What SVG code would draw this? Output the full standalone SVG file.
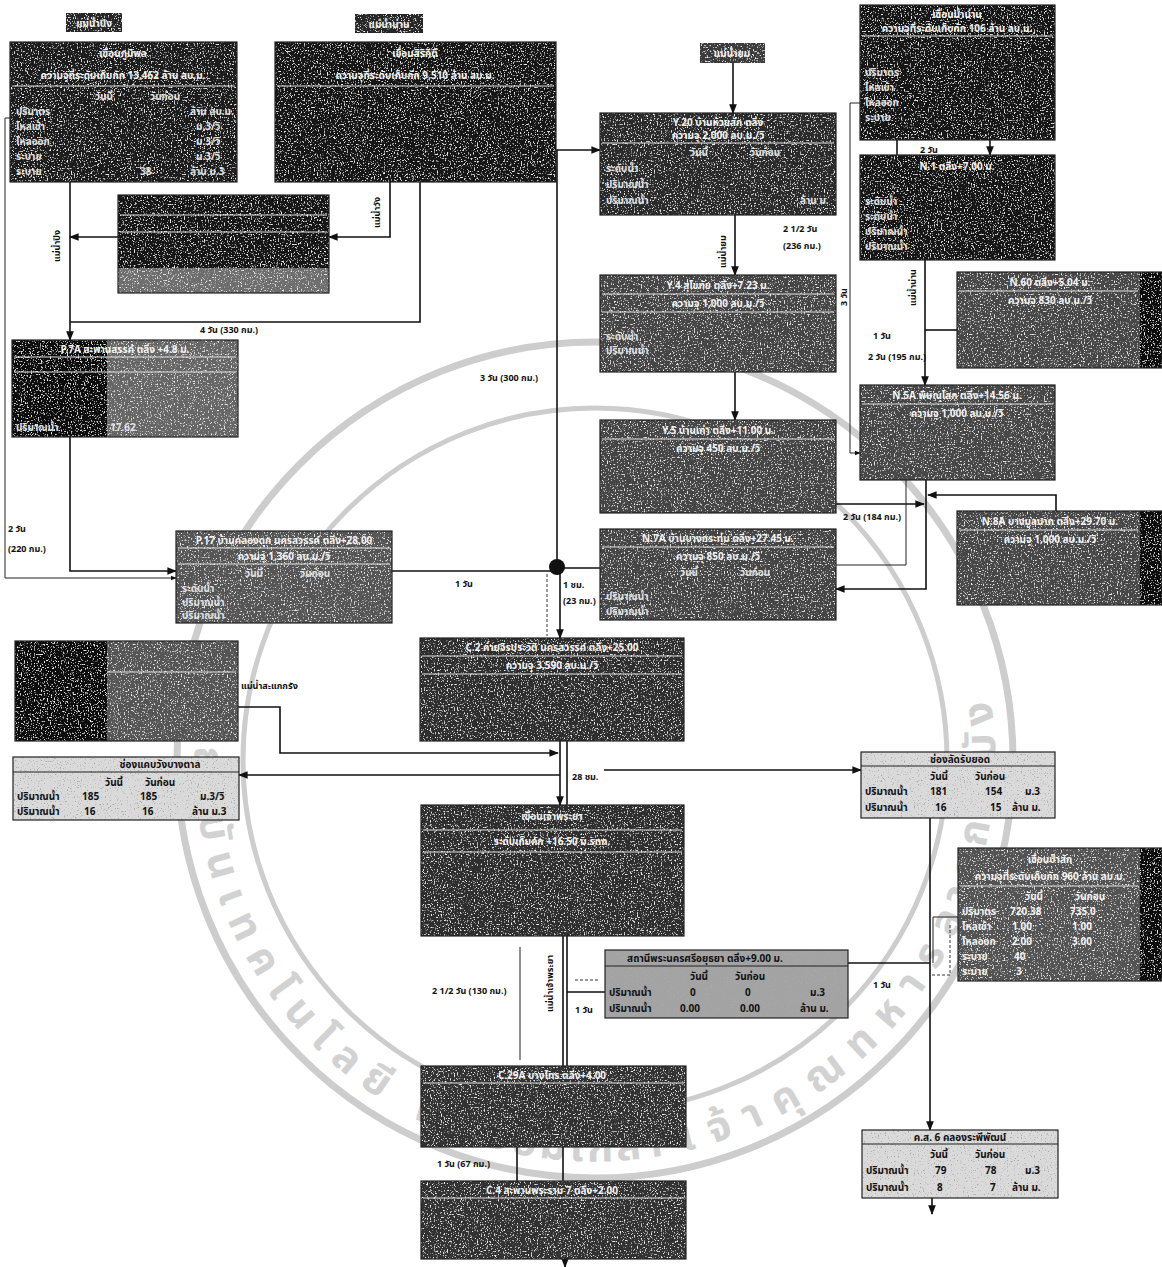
<svg xmlns="http://www.w3.org/2000/svg" width="1162" height="1267" viewBox="0 0 1162 1267">
<defs>
  <style>
    .t { font-family: "Noto Sans Thai", "Noto Sans", "DejaVu Sans", sans-serif; }
    .hd { font-size: 10px; fill: #f4f4f4; font-weight: bold; }
    .rw { font-size: 10px; fill: #e2e2e2; font-weight: bold; }
    .dk { font-size: 10px; fill: #111; font-weight: bold; }
    .lb { font-size: 9px; fill: #111; font-weight: bold; }
    .tag { font-size: 10px; fill: #f0f0f0; font-weight: bold; }
    .ln { fill: none; stroke: #111; stroke-width: 1.6; }
    .thin { fill: none; stroke: #222; stroke-width: 1; }
    .dash { fill: none; stroke: #333; stroke-width: 1; stroke-dasharray: 3 2; }
    .frame { fill: none; stroke: #222; stroke-width: 1.2; }
    .rule { stroke: #e0e0e0; stroke-width: 1; }
    .wm { fill: none; stroke: #cdcdcd; }
    .wmt { font-family: "Noto Sans Thai", "Noto Sans", "DejaVu Sans", sans-serif; font-size: 42px; font-weight: bold; fill: #d2d2d2; }
  </style>
  <!-- speckled scan texture: pale grains over dark fills -->
  <filter id="grainW" x="0" y="0" width="100%" height="100%">
    <feTurbulence type="fractalNoise" baseFrequency="0.7" numOctaves="2" seed="4" result="n"/>
    <feColorMatrix in="n" type="matrix" values="0 0 0 0 0.85  0 0 0 0 0.85  0 0 0 0 0.85  6 0 0 0 -3.5" result="w"/>
    <feComposite in="w" in2="SourceAlpha" operator="in" result="wc"/>
    <feMerge><feMergeNode in="SourceGraphic"/><feMergeNode in="wc"/></feMerge>
  </filter>
  <!-- dark grains over light fills -->
  <filter id="grainK" x="0" y="0" width="100%" height="100%">
    <feTurbulence type="fractalNoise" baseFrequency="0.7" numOctaves="2" seed="9" result="n"/>
    <feColorMatrix in="n" type="matrix" values="0 0 0 0 0.4  0 0 0 0 0.4  0 0 0 0 0.4  6 0 0 0 -3.6" result="k"/>
    <feComposite in="k" in2="SourceAlpha" operator="in" result="kc"/>
    <feMerge><feMergeNode in="SourceGraphic"/><feMergeNode in="kc"/></feMerge>
  </filter>
  <marker id="ah" viewBox="0 0 10 10" refX="9" refY="5" markerWidth="6" markerHeight="6" orient="auto-start-reverse">
    <path d="M0,1 L10,5 L0,9 Z" fill="#111"/>
  </marker>
  <!-- seal lettering runs from upper-left, down round the bottom, up the right -->
  <path id="ringPath" d="M198.9,704.3 A400,400 0 1,0 991.1,815.7 A400,400 0 1,0 198.9,704.3"/>
</defs>

<rect width="1162" height="1267" fill="#ffffff"/>

<!-- background seal -->
<g id="watermark">
  <circle class="wm" cx="595" cy="760" r="418" stroke-width="7"/>
  <circle class="wm" cx="595" cy="760" r="352" stroke-width="5"/>
  <text class="wmt"><textPath href="#ringPath" startOffset="4" textLength="455" lengthAdjust="spacing">สถาบันเทคโนโลยี</textPath></text>
  <text class="wmt"><textPath href="#ringPath" startOffset="495" textLength="260" lengthAdjust="spacing">พระจอมเกล้า</textPath></text>
  <text class="wmt"><textPath href="#ringPath" startOffset="775" textLength="340" lengthAdjust="spacing">เจ้าคุณทหาร</textPath></text>
  <text class="wmt"><textPath href="#ringPath" startOffset="1130" textLength="245" lengthAdjust="spacing">ลาดกระบัง</textPath></text>
</g>

<!-- connectors -->
<g id="connectors">
  <!-- Ping branch -->
  <path class="thin" d="M10,118 H5 V578 H176" marker-end="url(#ah)"/>
  <path class="ln" d="M70,182 V340" marker-end="url(#ah)"/>
  <path class="ln" d="M118,237 H70" marker-end="url(#ah)"/>
  <path class="ln" d="M70,437 V571 H176" marker-end="url(#ah)"/>
  <path class="ln" d="M390,182 V237 H329" marker-end="url(#ah)"/>
  <path class="ln" d="M420,182 V322 H70"/>
  <!-- Nan branch down to junction -->
  <path class="ln" d="M556,150 H600" marker-end="url(#ah)"/>
  <path class="ln" d="M557,150 V560"/>
  <path class="ln" d="M392,571 H552"/>
  <path class="ln" d="M563,568 H600"/>
  <path class="ln" d="M560,572 V638" marker-end="url(#ah)"/>
  <path class="dash" d="M547,574 V636"/>
  <!-- Yom -->
  <path class="ln" d="M733,63 V113" marker-end="url(#ah)"/>
  <path class="ln" d="M735,215 V275" marker-end="url(#ah)"/>
  <path class="ln" d="M735,372 V420" marker-end="url(#ah)"/>
  <path class="ln" d="M836,504 H924" marker-end="url(#ah)"/>
  <!-- upper right -->
  <path class="thin" d="M860,103 H850 V453 H860" marker-end="url(#ah)"/>
  <path class="ln" d="M897,140 V155"/>
  <path class="ln" d="M990,140 V155" marker-end="url(#ah)"/>
  <path class="ln" d="M925,260 V385" marker-end="url(#ah)"/>
  <path class="ln" d="M925,330 H957"/>
  <path class="ln" d="M926,480 V589 H836" marker-end="url(#ah)"/>
  <path class="thin" d="M906,480 V565 H836"/>
  <path class="ln" d="M1056,511 V495 H928" marker-end="url(#ah)"/>
  <!-- main stem -->
  <path class="ln" d="M560,741 V805" marker-end="url(#ah)"/>
  <path class="ln" d="M567,741 V805"/>
  <path class="ln" d="M238,707 H280 V753 H558" marker-end="url(#ah)"/>
  <path class="ln" d="M560,775 H239" marker-end="url(#ah)"/>
  <path class="ln" d="M604,770 H861" marker-end="url(#ah)"/>
  <path class="ln" d="M930,818 V1130" marker-end="url(#ah)"/>
  <path class="ln" d="M930,963 H848"/>
  <path class="thin" d="M933,963 V917 H958"/>
  <path class="dash" d="M950,925 V975 H930"/>
  <path class="thin" d="M520,947 V1060"/>
  <path class="ln" d="M563,936 V1066"/>
  <path class="ln" d="M567,936 V1066"/>
  <path class="ln" d="M567,992 H605"/>
  <path class="dash" d="M575,980 H600"/>
  <path class="ln" d="M517,1147 V1181"/>
  <path class="ln" d="M563,1147 V1181"/>
  <path class="ln" d="M565,1259 V1267" marker-end="url(#ah)"/>
  <path class="ln" d="M932,1198 V1214" marker-end="url(#ah)"/>
  <circle cx="557" cy="567" r="8" fill="#111"/>
</g>

<!-- connector captions -->
<g id="captions" class="t">
  <text class="lb" transform="translate(60,262) rotate(-90)">แม่น้ำปิง</text>
  <text class="lb" transform="translate(380,228) rotate(-90)">แม่น้ำวัง</text>
  <text class="lb" transform="translate(726,268) rotate(-90)">แม่น้ำยม</text>
  <text class="lb" transform="translate(916,306) rotate(-90)">แม่น้ำน่าน</text>
  <text class="lb" transform="translate(847,306) rotate(-90)">3 วัน</text>
  <text class="lb" transform="translate(553,1012) rotate(-90)">แม่น้ำเจ้าพระยา</text>
  <text class="lb" x="200" y="333">4 วัน (330 กม.)</text>
  <text class="lb" x="480" y="381">3 วัน (300 กม.)</text>
  <text class="lb" x="783" y="232">2 1/2 วัน</text>
  <text class="lb" x="783" y="249">(236 กม.)</text>
  <text class="lb" x="920" y="153">2 วัน</text>
  <text class="lb" x="873" y="339">1 วัน</text>
  <text class="lb" x="868" y="360">2 วัน (195 กม.)</text>
  <text class="lb" x="843" y="520">2 วัน (184 กม.)</text>
  <text class="lb" x="8" y="532">2 วัน</text>
  <text class="lb" x="8" y="552">(220 กม.)</text>
  <text class="lb" x="455" y="587">1 วัน</text>
  <text class="lb" x="563" y="588">1 ชม.</text>
  <text class="lb" x="563" y="604">(23 กม.)</text>
  <text class="lb" x="241" y="689">แม่น้ำสะแกกรัง</text>
  <text class="lb" x="572" y="780">28 ชม.</text>
  <text class="lb" x="432" y="994">2 1/2 วัน (130 กม.)</text>
  <text class="lb" x="575" y="1013">1 วัน</text>
  <text class="lb" x="873" y="988">1 วัน</text>
  <text class="lb" x="437" y="1167">1 วัน (67 กม.)</text>
</g>

<!-- river tags -->
<g id="tag-ping" class="t"><rect x="66" y="13" width="56" height="19" fill="#262626" filter="url(#grainW)"/><text class="tag" x="94" y="27" text-anchor="middle">แม่น้ำปิง</text></g>
<g id="tag-nan" class="t"><rect x="355" y="14" width="68" height="19" fill="#262626" filter="url(#grainW)"/><text class="tag" x="389" y="28" text-anchor="middle">แม่น้ำน่าน</text></g>
<g id="tag-yom" class="t"><rect x="700" y="43" width="65" height="20" fill="#3a3a3a" filter="url(#grainW)"/><text class="tag" x="732" y="57" text-anchor="middle">แม่น้ำยม</text></g>

<!-- stations -->
<g id="bhumibol" class="t">
  <rect x="10" y="42" width="227" height="140" fill="#1a1a1a" filter="url(#grainW)"/>
  <rect class="frame" x="10" y="42" width="227" height="140"/>
  <line class="rule" x1="12" y1="86" x2="235" y2="86"/>
  <text class="hd" x="123" y="57" text-anchor="middle">เขื่อนภูมิพล</text>
  <text class="hd" x="123" y="79" text-anchor="middle">ความจุที่ระดับเก็บกัก 13,462 ล้าน ลบ.ม.</text>
  <text class="rw" x="95" y="100">วันนี้</text><text class="rw" x="150" y="100">วันก่อน</text>
  <text class="rw" x="16" y="115">ปริมาตร</text><text class="rw" x="190" y="115">ล้าน ลบ.ม.</text>
  <text class="rw" x="16" y="130">ไหลเข้า</text><text class="rw" x="196" y="130">ม.3/วิ</text>
  <text class="rw" x="16" y="145">ไหลออก</text><text class="rw" x="196" y="145">ม.3/วิ</text>
  <text class="rw" x="16" y="160">ระบาย</text><text class="rw" x="196" y="160">ม.3/วิ</text>
  <text class="rw" x="16" y="175">ระบาย</text><text class="rw" x="140" y="175">38</text><text class="rw" x="190" y="175">ล้าน ม.3</text>
</g>

<g id="sirikit" class="t">
  <rect x="275" y="42" width="281" height="140" fill="#181818" filter="url(#grainW)"/>
  <rect class="frame" x="275" y="42" width="281" height="140"/>
  <line class="rule" x1="277" y1="86" x2="554" y2="86"/>
  <text class="hd" x="415" y="57" text-anchor="middle">เขื่อนสิริกิติ์</text>
  <text class="hd" x="415" y="79" text-anchor="middle">ความจุที่ระดับเก็บกัก 9,510 ล้าน ลบ.ม.</text>
</g>

<g id="kiewlom" class="t">
  <rect x="118" y="195" width="211" height="98" fill="#151515" filter="url(#grainW)"/>
  <rect x="118" y="268" width="211" height="25" fill="#6e6e6e" filter="url(#grainW)"/>
  <rect class="frame" x="118" y="195" width="211" height="98"/>
  <line class="rule" x1="120" y1="215" x2="327" y2="215"/>
  <line class="rule" x1="120" y1="232" x2="327" y2="232"/>
</g>

<g id="p7a" class="t">
  <rect x="12" y="340" width="226" height="97" fill="#666" filter="url(#grainW)"/>
  <rect x="12" y="340" width="95" height="97" fill="#111" filter="url(#grainW)"/>
  <rect class="frame" x="12" y="340" width="226" height="97"/>
  <line class="rule" x1="14" y1="357" x2="236" y2="357"/>
  <line class="rule" x1="14" y1="372" x2="236" y2="372"/>
  <text class="hd" x="125" y="353" text-anchor="middle">P.7A สะพานสรรค์ ตลิ่ง +4.8 ม.</text>
  <text class="rw" x="16" y="431">ปริมาณน้ำ</text><text class="rw" x="110" y="431">17.62</text>
</g>

<g id="y-upper" class="t">
  <rect x="600" y="113" width="236" height="102" fill="#2a2a2a" filter="url(#grainW)"/>
  <rect class="frame" x="600" y="113" width="236" height="102"/>
  <line class="rule" x1="602" y1="143" x2="834" y2="143"/>
  <text class="hd" x="718" y="126" text-anchor="middle">Y.20 บ้านห้วยสัก ตลิ่ง</text>
  <text class="hd" x="718" y="139" text-anchor="middle">ความจุ 2,000 ลบ.ม./วิ</text>
  <text class="rw" x="690" y="156">วันนี้</text><text class="rw" x="750" y="156">วันก่อน</text>
  <text class="rw" x="606" y="172">ระดับน้ำ</text>
  <text class="rw" x="606" y="188">ปริมาณน้ำ</text>
  <text class="rw" x="606" y="204">ปริมาณน้ำ</text><text class="rw" x="800" y="204">ล้าน ม.</text>
</g>

<g id="n-dam" class="t">
  <rect x="860" y="5" width="195" height="135" fill="#181818" filter="url(#grainW)"/>
  <rect class="frame" x="860" y="5" width="195" height="135"/>
  <line class="rule" x1="862" y1="36" x2="1053" y2="36"/>
  <text class="hd" x="957" y="18" text-anchor="middle">เขื่อนน้ำน่าน</text>
  <text class="hd" x="957" y="32" text-anchor="middle">ความจุที่ระดับเก็บกัก 106 ล้าน ลบ.ม.</text>
  <text class="rw" x="865" y="76">ปริมาตร</text>
  <text class="rw" x="865" y="91">ไหลเข้า</text>
  <text class="rw" x="865" y="106">ไหลออก</text>
  <text class="rw" x="865" y="121">ระบาย</text>
</g>

<g id="n-1" class="t">
  <rect x="860" y="155" width="195" height="105" fill="#181818" filter="url(#grainW)"/>
  <rect class="frame" x="860" y="155" width="195" height="105"/>
  <text class="hd" x="957" y="170" text-anchor="middle">N.1 ตลิ่ง+7.00 ม.</text>
  <text class="rw" x="865" y="205">ระดับน้ำ</text>
  <text class="rw" x="865" y="220">ระดับน้ำ</text>
  <text class="rw" x="865" y="235">ปริมาณน้ำ</text>
  <text class="rw" x="865" y="250">ปริมาณน้ำ</text>
</g>

<g id="y-4" class="t">
  <rect x="600" y="275" width="236" height="97" fill="#444" filter="url(#grainW)"/>
  <rect class="frame" x="600" y="275" width="236" height="97"/>
  <line class="rule" x1="602" y1="294" x2="834" y2="294"/>
  <line class="rule" x1="602" y1="312" x2="834" y2="312"/>
  <text class="hd" x="718" y="289" text-anchor="middle">Y.4 สุโขทัย ตลิ่ง+7.23 ม.</text>
  <text class="hd" x="718" y="307" text-anchor="middle">ความจุ 1,000 ลบ.ม./วิ</text>
  <text class="rw" x="606" y="340">ระดับน้ำ</text>
  <text class="rw" x="606" y="354">ปริมาณน้ำ</text>
</g>

<g id="n-upper-side" class="t">
  <rect x="957" y="272" width="205" height="96" fill="#474747" filter="url(#grainW)"/>
  <rect x="1140" y="272" width="22" height="96" fill="#0a0a0a" filter="url(#grainW)"/>
  <rect class="frame" x="957" y="272" width="205" height="96"/>
  <line class="rule" x1="959" y1="291" x2="1138" y2="291"/>
  <text class="hd" x="1050" y="286" text-anchor="middle">N.60 ตลิ่ง+5.04 ม.</text>
  <text class="hd" x="1050" y="304" text-anchor="middle">ความจุ 830 ลบ.ม./วิ</text>
</g>

<g id="n-5" class="t">
  <rect x="860" y="385" width="195" height="95" fill="#474747" filter="url(#grainW)"/>
  <rect class="frame" x="860" y="385" width="195" height="95"/>
  <line class="rule" x1="862" y1="404" x2="1053" y2="404"/>
  <text class="hd" x="957" y="399" text-anchor="middle">N.5A พิษณุโลก ตลิ่ง+14.56 ม.</text>
  <text class="hd" x="957" y="417" text-anchor="middle">ความจุ 1,000 ลบ.ม./วิ</text>
</g>

<g id="y-5" class="t">
  <rect x="600" y="420" width="236" height="93" fill="#444" filter="url(#grainW)"/>
  <rect class="frame" x="600" y="420" width="236" height="93"/>
  <line class="rule" x1="602" y1="439" x2="834" y2="439"/>
  <text class="hd" x="718" y="434" text-anchor="middle">Y.5 บ้านเก่า ตลิ่ง+11.00 ม.</text>
  <text class="hd" x="718" y="452" text-anchor="middle">ความจุ 450 ลบ.ม./วิ</text>
</g>

<g id="n-7a" class="t">
  <rect x="600" y="529" width="236" height="91" fill="#444" filter="url(#grainW)"/>
  <rect class="frame" x="600" y="529" width="236" height="91"/>
  <line class="rule" x1="602" y1="547" x2="834" y2="547"/>
  <text class="hd" x="718" y="542" text-anchor="middle">N.7A บ้านบางกระทุ่ม ตลิ่ง+27.45 ม.</text>
  <text class="hd" x="718" y="560" text-anchor="middle">ความจุ 850 ลบ.ม./วิ</text>
  <text class="rw" x="680" y="576">วันนี้</text><text class="rw" x="740" y="576">วันก่อน</text>
  <text class="rw" x="606" y="600">ปริมาณน้ำ</text>
  <text class="rw" x="606" y="615">ปริมาณน้ำ</text>
</g>

<g id="n-8a" class="t">
  <rect x="957" y="511" width="205" height="94" fill="#474747" filter="url(#grainW)"/>
  <rect x="1140" y="511" width="22" height="94" fill="#0a0a0a" filter="url(#grainW)"/>
  <rect class="frame" x="957" y="511" width="205" height="94"/>
  <line class="rule" x1="959" y1="530" x2="1138" y2="530"/>
  <text class="hd" x="1050" y="525" text-anchor="middle">N.8A บางมูลนาก ตลิ่ง+29.70 ม.</text>
  <text class="hd" x="1050" y="543" text-anchor="middle">ความจุ 1,000 ลบ.ม./วิ</text>
</g>

<g id="p-17" class="t">
  <rect x="176" y="531" width="216" height="92" fill="#555" filter="url(#grainW)"/>
  <rect class="frame" x="176" y="531" width="216" height="92"/>
  <line class="rule" x1="178" y1="548" x2="390" y2="548"/>
  <line class="rule" x1="178" y1="564" x2="390" y2="564"/>
  <text class="hd" x="284" y="544" text-anchor="middle">P.17 บ้านคลองดุก นครสวรรค์ ตลิ่ง+28.00</text>
  <text class="hd" x="284" y="560" text-anchor="middle">ความจุ 1,360 ลบ.ม./วิ</text>
  <text class="rw" x="245" y="577">วันนี้</text><text class="rw" x="300" y="577">วันก่อน</text>
  <text class="rw" x="182" y="592">ระดับน้ำ</text>
  <text class="rw" x="182" y="606">ปริมาณน้ำ</text>
  <text class="rw" x="182" y="619">ปริมาณน้ำ</text>
</g>

<g id="sakae-krang" class="t">
  <rect x="15" y="641" width="223" height="100" fill="#555" filter="url(#grainW)"/>
  <rect x="15" y="641" width="92" height="100" fill="#0e0e0e" filter="url(#grainW)"/>
  <rect class="frame" x="15" y="641" width="223" height="100"/>
  <line class="rule" x1="107" y1="672" x2="236" y2="672"/>
</g>

<g id="c-2" class="t">
  <rect x="420" y="638" width="264" height="103" fill="#2e2e2e" filter="url(#grainW)"/>
  <rect class="frame" x="420" y="638" width="264" height="103"/>
  <line class="rule" x1="422" y1="656" x2="682" y2="656"/>
  <line class="rule" x1="422" y1="674" x2="682" y2="674"/>
  <text class="hd" x="552" y="651" text-anchor="middle">C.2 ค่ายจิรประวัติ นครสวรรค์ ตลิ่ง+25.00</text>
  <text class="hd" x="552" y="669" text-anchor="middle">ความจุ 3,590 ลบ.ม./วิ</text>
</g>

<g id="west-canal" class="t">
  <rect x="13" y="757" width="226" height="63" fill="#dadada" filter="url(#grainK)"/>
  <rect class="frame" x="13" y="757" width="226" height="63"/>
  <line x1="13" y1="772" x2="239" y2="772" stroke="#222" stroke-width="1"/>
  <text class="dk" x="160" y="768" text-anchor="middle">ช่องแคบวังบางตาล</text>
  <text class="dk" x="105" y="786">วันนี้</text><text class="dk" x="145" y="786">วันก่อน</text>
  <text class="dk" x="17" y="800">ปริมาณน้ำ</text><text class="dk" x="82" y="800">185</text><text class="dk" x="140" y="800">185</text><text class="dk" x="200" y="800">ม.3/วิ</text>
  <text class="dk" x="17" y="815">ปริมาณน้ำ</text><text class="dk" x="84" y="815">16</text><text class="dk" x="142" y="815">16</text><text class="dk" x="192" y="815">ล้าน ม.3</text>
</g>

<g id="east-canal" class="t">
  <rect x="861" y="752" width="194" height="66" fill="#dadada" filter="url(#grainK)"/>
  <rect class="frame" x="861" y="752" width="194" height="66"/>
  <line x1="861" y1="766" x2="1055" y2="766" stroke="#222" stroke-width="1"/>
  <text class="dk" x="960" y="763" text-anchor="middle">ช่องลัดรับยอด</text>
  <text class="dk" x="930" y="780">วันนี้</text><text class="dk" x="975" y="780">วันก่อน</text>
  <text class="dk" x="865" y="795">ปริมาณน้ำ</text><text class="dk" x="930" y="795">181</text><text class="dk" x="985" y="795">154</text><text class="dk" x="1025" y="795">ม.3</text>
  <text class="dk" x="865" y="811">ปริมาณน้ำ</text><text class="dk" x="935" y="811">16</text><text class="dk" x="990" y="811">15</text><text class="dk" x="1012" y="811">ล้าน ม.</text>
</g>

<g id="chainat" class="t">
  <rect x="421" y="805" width="263" height="131" fill="#2e2e2e" filter="url(#grainW)"/>
  <rect class="frame" x="421" y="805" width="263" height="131"/>
  <line class="rule" x1="423" y1="830" x2="682" y2="830"/>
  <line class="rule" x1="423" y1="852" x2="682" y2="852"/>
  <text class="hd" x="552" y="820" text-anchor="middle">เขื่อนเจ้าพระยา</text>
  <text class="hd" x="552" y="845" text-anchor="middle">ระดับเก็บกัก +16.50 ม.รทก.</text>
</g>

<g id="pasak" class="t">
  <rect x="958" y="848" width="204" height="133" fill="#525252" filter="url(#grainW)"/>
  <rect x="1140" y="848" width="22" height="133" fill="#0a0a0a" filter="url(#grainW)"/>
  <rect class="frame" x="958" y="848" width="204" height="133"/>
  <line class="rule" x1="960" y1="886" x2="1138" y2="886"/>
  <text class="hd" x="1050" y="863" text-anchor="middle">เขื่อนป่าสัก</text>
  <text class="hd" x="1050" y="880" text-anchor="middle">ความจุที่ระดับเก็บกัก 960 ล้าน ลบ.ม.</text>
  <text class="hd" x="1025" y="900">วันนี้</text><text class="hd" x="1075" y="900">วันก่อน</text>
  <text class="hd" x="962" y="915">ปริมาตร</text><text class="hd" x="1010" y="915">720.38</text><text class="hd" x="1070" y="915">735.0</text>
  <text class="hd" x="962" y="930">ไหลเข้า</text><text class="hd" x="1012" y="930">1.00</text><text class="hd" x="1072" y="930">1.00</text>
  <text class="hd" x="962" y="945">ไหลออก</text><text class="hd" x="1012" y="945">2.00</text><text class="hd" x="1072" y="945">3.00</text>
  <text class="hd" x="962" y="960">ระบาย</text><text class="hd" x="1014" y="960">40</text>
  <text class="hd" x="962" y="975">ระบาย</text><text class="hd" x="1016" y="975">3</text>
</g>

<g id="ayutthaya" class="t">
  <rect x="605" y="950" width="243" height="68" fill="#a3a3a3" filter="url(#grainK)"/>
  <rect class="frame" x="605" y="950" width="243" height="68"/>
  <line x1="605" y1="966" x2="848" y2="966" stroke="#222" stroke-width="1"/>
  <text class="dk" x="705" y="962" text-anchor="middle">สถานีพระนครศรีอยุธยา ตลิ่ง+9.00 ม.</text>
  <text class="dk" x="690" y="980">วันนี้</text><text class="dk" x="735" y="980">วันก่อน</text>
  <text class="dk" x="609" y="996">ปริมาณน้ำ</text><text class="dk" x="690" y="996">0</text><text class="dk" x="745" y="996">0</text><text class="dk" x="810" y="996">ม.3</text>
  <text class="dk" x="609" y="1012">ปริมาณน้ำ</text><text class="dk" x="680" y="1012">0.00</text><text class="dk" x="740" y="1012">0.00</text><text class="dk" x="800" y="1012">ล้าน ม.</text>
</g>

<g id="c-29" class="t">
  <rect x="421" y="1066" width="265" height="81" fill="#333" filter="url(#grainW)"/>
  <rect class="frame" x="421" y="1066" width="265" height="81"/>
  <line class="rule" x1="423" y1="1083" x2="684" y2="1083"/>
  <text class="hd" x="552" y="1079" text-anchor="middle">C.29A บางไทร ตลิ่ง+4.00</text>
</g>

<g id="c-4" class="t">
  <rect x="421" y="1181" width="265" height="78" fill="#333" filter="url(#grainW)"/>
  <rect class="frame" x="421" y="1181" width="265" height="78"/>
  <line class="rule" x1="423" y1="1198" x2="684" y2="1198"/>
  <text class="hd" x="552" y="1194" text-anchor="middle">C.4 สะพานพระราม 7 ตลิ่ง+2.00</text>
</g>

<g id="raphiphat" class="t">
  <rect x="862" y="1130" width="196" height="68" fill="#dadada" filter="url(#grainK)"/>
  <rect class="frame" x="862" y="1130" width="196" height="68"/>
  <line x1="862" y1="1144" x2="1058" y2="1144" stroke="#222" stroke-width="1"/>
  <text class="dk" x="960" y="1141" text-anchor="middle">ค.ส. 6 คลองระพีพัฒน์</text>
  <text class="dk" x="930" y="1158">วันนี้</text><text class="dk" x="975" y="1158">วันก่อน</text>
  <text class="dk" x="866" y="1174">ปริมาณน้ำ</text><text class="dk" x="935" y="1174">79</text><text class="dk" x="985" y="1174">78</text><text class="dk" x="1025" y="1174">ม.3</text>
  <text class="dk" x="866" y="1191">ปริมาณน้ำ</text><text class="dk" x="937" y="1191">8</text><text class="dk" x="990" y="1191">7</text><text class="dk" x="1012" y="1191">ล้าน ม.</text>
</g>
</svg>
